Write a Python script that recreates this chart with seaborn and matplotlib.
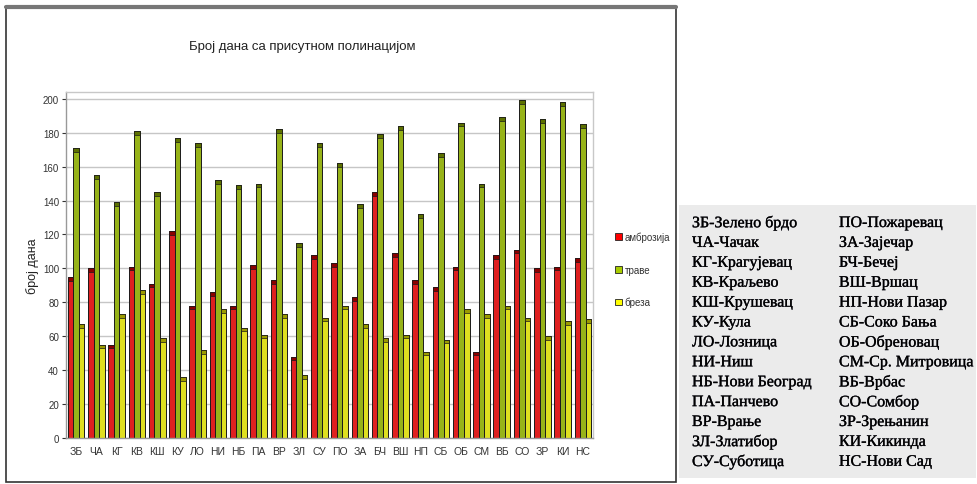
import pandas as pd
import numpy as np
import matplotlib.pyplot as plt
import matplotlib.patches as mpatches
import matplotlib.patheffects as pe
from matplotlib.lines import Line2D
import seaborn as sns

sns.set_theme(style="white")
plt.rcParams["font.family"] = ["Liberation Sans", "DejaVu Sans"]

# ----------------------------------
# Data
# ----------------------------------
stations = ["ЗБ", "ЧА", "КГ", "КВ", "КШ", "КУ", "ЛО", "НИ", "НБ", "ПА", "ВР", "ЗЛ", "СУ", "ПО",
            "ЗА", "БЧ", "ВШ", "НП", "СБ", "ОБ", "СМ", "ВБ", "СО", "ЗР", "КИ", "НС"]
ambrozija = [95, 100, 55, 101, 91, 122, 78, 86, 78, 102, 93, 48, 108, 103,
             83, 145, 109, 93, 89, 101, 51, 108, 111, 100, 101, 106]
trave = [171, 155, 139, 181, 145, 177, 174, 152, 149, 150, 182, 115, 174, 162,
         138, 179, 184, 132, 168, 186, 150, 189, 199, 188, 198, 185]
breza = [67, 55, 73, 87, 59, 36, 52, 76, 65, 61, 73, 37, 71, 78,
         67, 59, 61, 51, 58, 76, 73, 78, 71, 60, 69, 70]

series_names = ["амброзија", "траве", "бреза"]
colors = ["#ff0000", "#a8cc00", "#ffff00"]
cap_colors = ["#8a0000", "#5c7000", "#9a9a00"]

legend_names = [
    "ЗБ-Зелено брдо", "ЧА-Чачак", "КГ-Крагујевац", "КВ-Краљево", "КШ-Крушевац",
    "КУ-Кула", "ЛО-Лозница", "НИ-Ниш", "НБ-Нови Београд", "ПА-Панчево",
    "ВР-Врање", "ЗЛ-Златибор", "СУ-Суботица",
    "ПО-Пожаревац", "ЗА-Зајечар", "БЧ-Бечеј", "ВШ-Вршац", "НП-Нови Пазар",
    "СБ-Соко Бања", "ОБ-Обреновац", "СМ-Ср. Митровица", "ВБ-Врбас",
    "СО-Сомбор", "ЗР-Зрењанин", "КИ-Кикинда", "НС-Нови Сад",
]

df = pd.DataFrame({
    "station": stations * 3,
    "series": np.repeat(series_names, len(stations)),
    "days": ambrozija + trave + breza,
})

# ----------------------------------
# Figure
# ----------------------------------
fig = plt.figure(figsize=(9.78, 4.85), dpi=100)
W, H = 978, 485

# chart frame
fig.patches.append(mpatches.Rectangle((6 / W, 1 - 483 / H), 670 / W, 475 / H,
                                      transform=fig.transFigure, fill=False,
                                      edgecolor="#333333", linewidth=1.2))
fig.add_artist(Line2D([6 / W, 676 / W], [1 - 8 / H, 1 - 8 / H], transform=fig.transFigure,
                      color="#777777", linewidth=3))

# gray box with station names
fig.patches.append(mpatches.Rectangle((679 / W, 1 - 479 / H), 297 / W, 273 / H,
                                      transform=fig.transFigure, facecolor="#ebebeb",
                                      edgecolor="none"))

ax = fig.add_axes([66 / W, 1 - 439 / H, 527 / W, 346 / H])
sns.barplot(data=df, x="station", y="days", hue="series", hue_order=series_names,
            palette=colors, width=0.82, edgecolor="#1a1a1a", linewidth=0.7,
            legend=False, ax=ax)

# darker top caps (pseudo 3D)
for container, cc in zip(ax.containers, cap_colors):
    for p in container.patches:
        ax.add_patch(mpatches.Rectangle((p.get_x(), p.get_height() - 2.2), p.get_width(), 2.2,
                                        facecolor=cc, edgecolor="#1a1a1a", linewidth=0.5,
                                        zorder=p.get_zorder() + 0.1))

ax.set_ylim(0, 204)
ax.set_xlim(-0.5, len(stations) - 0.5)
ax.set_yticks(range(0, 201, 20))
ax.yaxis.grid(True, color="#c6c6c6", linewidth=1)
ax.set_axisbelow(True)
for s in ax.spines.values():
    s.set_color("#c8c8c8")
    s.set_linewidth(1)
ax.spines["left"].set_color("#999999")
ax.spines["bottom"].set_color("#999999")
ax.tick_params(axis="y", labelsize=7, colors="#333333", length=3, width=0.8,
               left=True, pad=2)
ax.tick_params(axis="x", labelsize=7.5, colors="#333333", length=0, pad=6)
ax.set_xlabel("")
ax.set_ylabel("број дана", fontsize=9, color="#222222", labelpad=3)

fig.text(302 / W, 1 - 47 / H, "Број дана са присутном полинацијом", ha="center",
         va="center", fontsize=9.5, color="#222222")

# series legend
handles = [mpatches.Patch(facecolor=c, edgecolor="#222222", linewidth=0.6) for c in colors]
fig.legend(handles, series_names, loc="upper left", bbox_to_anchor=(606 / W, 1 - 224 / H),
           frameon=False, fontsize=7, handlelength=0.7, handleheight=0.7,
           handletextpad=0.3, labelspacing=2.3, labelcolor="#333333")

# station names
for i, name in enumerate(legend_names):
    col, row = divmod(i, 13)
    fig.text((692 + col * 147) / W, 1 - (224 + row * 19.9) / H, name,
             family=["Liberation Serif", "DejaVu Serif"], fontsize=11.5,
             color="#000000", va="center", ha="left",
             path_effects=[pe.withStroke(linewidth=0.25, foreground="#1a1a2a")])

fig.savefig("out.png", dpi=100)
